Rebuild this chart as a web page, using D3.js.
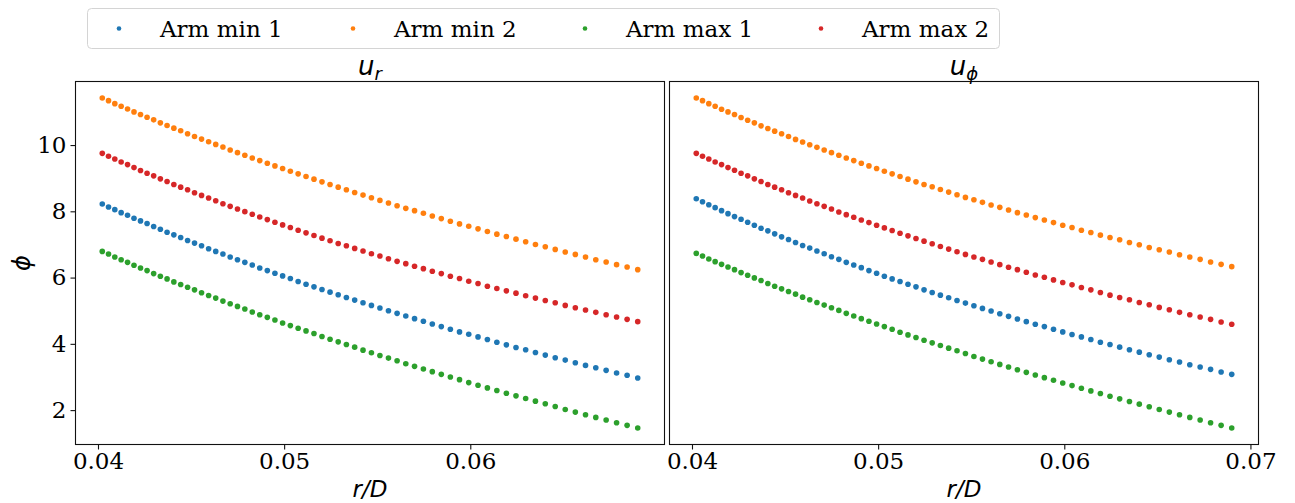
<!DOCTYPE html>
<html><head><meta charset="utf-8">
<script src="https://cdn.jsdelivr.net/npm/d3@7"></script>
<style>body{margin:0;background:#fff} svg{display:block}</style>
</head><body><svg id="c" width="1295" height="503"></svg>
<script>
// ---------------- data ----------------
const xValues = [
0.04023, 0.040565, 0.040903, 0.041244, 0.041588, 0.041934, 0.042284, 0.042636, 0.042991, 0.04335,
0.043711, 0.044075, 0.044442, 0.044813, 0.045186, 0.045563, 0.045943, 0.046325, 0.046711, 0.047101,
0.047493, 0.047889, 0.048288, 0.04869, 0.049096, 0.049505, 0.049918, 0.050334, 0.050753, 0.051176,
0.051603, 0.052033, 0.052466, 0.052904, 0.053344, 0.053789, 0.054237, 0.054689, 0.055145, 0.055604,
0.056068, 0.056535, 0.057006, 0.057481, 0.05796, 0.058443, 0.05893, 0.059421, 0.059917, 0.060416,
0.060919, 0.061427, 0.061939, 0.062455, 0.062975, 0.0635, 0.064029, 0.064563, 0.065101, 0.065643,
0.06619, 0.066742, 0.067298, 0.067859, 0.068425, 0.068995];

// u_r panel
const urMin1 = [
8.22, 8.13, 8.05, 7.96, 7.88, 7.79, 7.71, 7.63, 7.54, 7.46,
7.37, 7.29, 7.21, 7.12, 7.04, 6.96, 6.87, 6.79, 6.71, 6.62,
6.54, 6.46, 6.38, 6.29, 6.21, 6.13, 6.05, 5.97, 5.88, 5.80,
5.72, 5.64, 5.56, 5.48, 5.40, 5.32, 5.24, 5.16, 5.08, 5.00,
4.92, 4.84, 4.76, 4.68, 4.60, 4.52, 4.44, 4.36, 4.29, 4.21,
4.13, 4.05, 3.97, 3.89, 3.82, 3.74, 3.66, 3.58, 3.51, 3.43,
3.35, 3.28, 3.20, 3.12, 3.05, 2.97];
const urMin2 = [
11.42, 11.34, 11.25, 11.17, 11.09, 11.00, 10.92, 10.84, 10.76, 10.67,
10.59, 10.51, 10.43, 10.34, 10.26, 10.18, 10.10, 10.02, 9.94, 9.85,
9.77, 9.69, 9.61, 9.53, 9.45, 9.37, 9.29, 9.21, 9.13, 9.05,
8.97, 8.89, 8.81, 8.73, 8.65, 8.57, 8.49, 8.41, 8.33, 8.25,
8.17, 8.09, 8.02, 7.94, 7.86, 7.78, 7.70, 7.62, 7.55, 7.47,
7.39, 7.31, 7.24, 7.16, 7.08, 7.00, 6.93, 6.85, 6.77, 6.70,
6.62, 6.54, 6.47, 6.39, 6.32, 6.24];
const urMax1 = [
6.79, 6.71, 6.62, 6.54, 6.46, 6.37, 6.29, 6.21, 6.12, 6.04,
5.96, 5.87, 5.79, 5.71, 5.63, 5.54, 5.46, 5.38, 5.29, 5.21,
5.13, 5.05, 4.96, 4.88, 4.80, 4.72, 4.63, 4.55, 4.47, 4.39,
4.31, 4.22, 4.14, 4.06, 3.98, 3.90, 3.81, 3.73, 3.65, 3.57,
3.49, 3.40, 3.32, 3.24, 3.16, 3.08, 3.00, 2.92, 2.83, 2.75,
2.67, 2.59, 2.51, 2.43, 2.35, 2.27, 2.19, 2.11, 2.02, 1.94,
1.86, 1.78, 1.70, 1.62, 1.54, 1.46];
const urMax2 = [
9.75, 9.66, 9.58, 9.49, 9.41, 9.32, 9.23, 9.15, 9.07, 8.98,
8.90, 8.81, 8.73, 8.65, 8.56, 8.48, 8.40, 8.32, 8.23, 8.15,
8.07, 7.99, 7.91, 7.83, 7.75, 7.67, 7.59, 7.51, 7.43, 7.35,
7.27, 7.19, 7.11, 7.03, 6.96, 6.88, 6.80, 6.72, 6.65, 6.57,
6.49, 6.42, 6.34, 6.27, 6.19, 6.12, 6.04, 5.97, 5.89, 5.82,
5.74, 5.67, 5.60, 5.53, 5.45, 5.38, 5.31, 5.24, 5.16, 5.09,
5.02, 4.95, 4.88, 4.81, 4.74, 4.67];

// u_phi panel
const uphiMin1 = [
8.38, 8.29, 8.20, 8.11, 8.02, 7.93, 7.84, 7.76, 7.67, 7.58,
7.49, 7.41, 7.32, 7.23, 7.15, 7.06, 6.97, 6.89, 6.80, 6.72,
6.63, 6.55, 6.46, 6.38, 6.30, 6.21, 6.13, 6.04, 5.96, 5.88,
5.80, 5.72, 5.63, 5.55, 5.47, 5.39, 5.31, 5.23, 5.15, 5.07,
4.99, 4.91, 4.83, 4.75, 4.67, 4.59, 4.52, 4.44, 4.36, 4.28,
4.21, 4.13, 4.05, 3.98, 3.90, 3.82, 3.75, 3.67, 3.60, 3.52,
3.45, 3.37, 3.30, 3.23, 3.15, 3.08];
const uphiMin2 = [
11.42, 11.34, 11.25, 11.17, 11.08, 11.00, 10.92, 10.83, 10.75, 10.67,
10.58, 10.50, 10.42, 10.34, 10.26, 10.17, 10.09, 10.01, 9.93, 9.85,
9.77, 9.69, 9.61, 9.53, 9.45, 9.37, 9.29, 9.21, 9.13, 9.05,
8.97, 8.89, 8.81, 8.74, 8.66, 8.58, 8.50, 8.42, 8.35, 8.27,
8.19, 8.12, 8.04, 7.96, 7.89, 7.81, 7.74, 7.66, 7.58, 7.51,
7.43, 7.36, 7.28, 7.21, 7.14, 7.06, 6.99, 6.91, 6.84, 6.77,
6.69, 6.62, 6.55, 6.47, 6.40, 6.33];
const uphiMax1 = [
6.73, 6.65, 6.56, 6.48, 6.40, 6.32, 6.24, 6.15, 6.07, 5.99,
5.91, 5.82, 5.74, 5.66, 5.58, 5.50, 5.41, 5.33, 5.25, 5.17,
5.09, 5.01, 4.92, 4.84, 4.76, 4.68, 4.60, 4.52, 4.44, 4.35,
4.27, 4.19, 4.11, 4.03, 3.95, 3.87, 3.79, 3.71, 3.62, 3.54,
3.46, 3.38, 3.30, 3.22, 3.14, 3.06, 2.98, 2.90, 2.82, 2.74,
2.66, 2.58, 2.50, 2.42, 2.34, 2.26, 2.18, 2.10, 2.02, 1.94,
1.86, 1.78, 1.70, 1.62, 1.54, 1.46];
const uphiMax2 = [
9.75, 9.66, 9.58, 9.49, 9.41, 9.32, 9.24, 9.15, 9.07, 8.98,
8.90, 8.81, 8.73, 8.65, 8.56, 8.48, 8.40, 8.31, 8.23, 8.15,
8.07, 7.98, 7.90, 7.82, 7.74, 7.66, 7.58, 7.50, 7.42, 7.34,
7.26, 7.18, 7.10, 7.02, 6.94, 6.86, 6.78, 6.70, 6.62, 6.55,
6.47, 6.39, 6.31, 6.24, 6.16, 6.08, 6.01, 5.93, 5.85, 5.78,
5.70, 5.63, 5.55, 5.47, 5.40, 5.33, 5.25, 5.18, 5.10, 5.03,
4.95, 4.88, 4.81, 4.74, 4.66, 4.59];

const seriesNames = ["Arm min 1", "Arm min 2", "Arm max 1", "Arm max 2"];
const seriesColors = ["#1f77b4", "#ff7f0e", "#2ca02c", "#d62728"];
const xTicksLeft = [0.04, 0.05, 0.06];
const xTicksRight = [0.04, 0.05, 0.06, 0.07];
const yTicks = [2, 4, 6, 8, 10];

// ---------------- drawing ----------------
const svg = d3.select("#c");
svg.append("rect").attr("width", 1295).attr("height", 503).attr("fill", "#fff");

const plotTop = 81.5, plotBottom = 444.5;
const serifFont = "'DejaVu Serif', serif";
const sansFont = "'DejaVu Sans', sans-serif";
const tickFontSize = 23;

const pad = e => { const d = (e[1] - e[0]) * 0.05; return [e[0] - d, e[1] + d]; };
const xDomain = pad(d3.extent(xValues));
const allY = [].concat(urMin1, urMin2, urMax1, urMax2, uphiMin1, uphiMin2, uphiMax1, uphiMax2);
const y = d3.scaleLinear().domain(pad(d3.extent(allY))).range([plotBottom, plotTop]);

const panels = [
  { left: 75.5, right: 664.5, sub: "r", series: [urMin1, urMin2, urMax1, urMax2], xticks: xTicksLeft, yaxis: true },
  { left: 669.5, right: 1258.5, sub: "ϕ", series: [uphiMin1, uphiMin2, uphiMax1, uphiMax2], xticks: xTicksRight, yaxis: false }
];

panels.forEach(p => {
  const x = d3.scaleLinear().domain(xDomain).range([p.left, p.right]);
  const g = svg.append("g");

  p.series.forEach((vals, k) => {
    g.append("g").selectAll("circle").data(vals).join("circle")
      .attr("cx", (d, i) => x(xValues[i]))
      .attr("cy", d => y(d))
      .attr("r", 2.8)
      .attr("fill", seriesColors[k]);
  });

  g.append("rect").attr("x", p.left).attr("y", plotTop)
    .attr("width", p.right - p.left).attr("height", plotBottom - plotTop)
    .attr("fill", "none").attr("stroke", "#111").attr("stroke-width", 1.1);

  const gx = g.append("g").attr("transform", `translate(0,${plotBottom})`)
    .call(d3.axisBottom(x).tickValues(p.xticks).tickFormat(d3.format(".2f")).tickSize(5).tickPadding(3));
  gx.select(".domain").remove();
  gx.selectAll(".tick line").attr("stroke", "#111").attr("stroke-width", 1.1);
  gx.selectAll("text").attr("font-family", serifFont).attr("font-size", tickFontSize).attr("fill", "#000");

  if (p.yaxis) {
    const gy = g.append("g").attr("transform", `translate(${p.left},0)`)
      .call(d3.axisLeft(y).tickValues(yTicks).tickFormat(d3.format("d")).tickSize(5).tickPadding(4));
    gy.select(".domain").remove();
    gy.selectAll(".tick line").attr("stroke", "#111").attr("stroke-width", 1.1);
    gy.selectAll("text").attr("font-family", serifFont).attr("font-size", tickFontSize).attr("fill", "#000");
  }

  const cx = (p.left + p.right) / 2;
  const t = g.append("text").attr("x", cx).attr("y", 75).attr("text-anchor", "middle")
    .attr("font-family", sansFont).attr("font-style", "italic").attr("fill", "#000");
  t.append("tspan").attr("font-size", 26).text("u");
  t.append("tspan").attr("font-size", 18).attr("dy", 5).text(p.sub);

  g.append("text").attr("x", cx).attr("y", 497).attr("text-anchor", "middle")
    .attr("font-family", sansFont).attr("font-style", "italic").attr("font-size", 23)
    .attr("fill", "#000").text("r/D");
});

svg.append("text").attr("transform", "translate(30,263) rotate(-90)")
  .attr("text-anchor", "middle").attr("font-family", sansFont).attr("font-style", "italic")
  .attr("font-size", 24).attr("fill", "#000").text("ϕ");

// legend
const lg = svg.append("g");
lg.append("rect").attr("x", 87.5).attr("y", 8.5).attr("width", 912).attr("height", 40)
  .attr("rx", 4).attr("fill", "#fff").attr("stroke", "#d4d4d4").attr("stroke-width", 1);
const legendTextX = [160, 394, 626, 862];
seriesNames.forEach((name, k) => {
  lg.append("circle").attr("cx", legendTextX[k] - 41).attr("cy", 28.5).attr("r", 2.3).attr("fill", seriesColors[k]);
  lg.append("text").attr("x", legendTextX[k]).attr("y", 36.5).attr("font-family", serifFont)
    .attr("font-size", 23).attr("fill", "#000").text(name);
});
</script></body></html>
